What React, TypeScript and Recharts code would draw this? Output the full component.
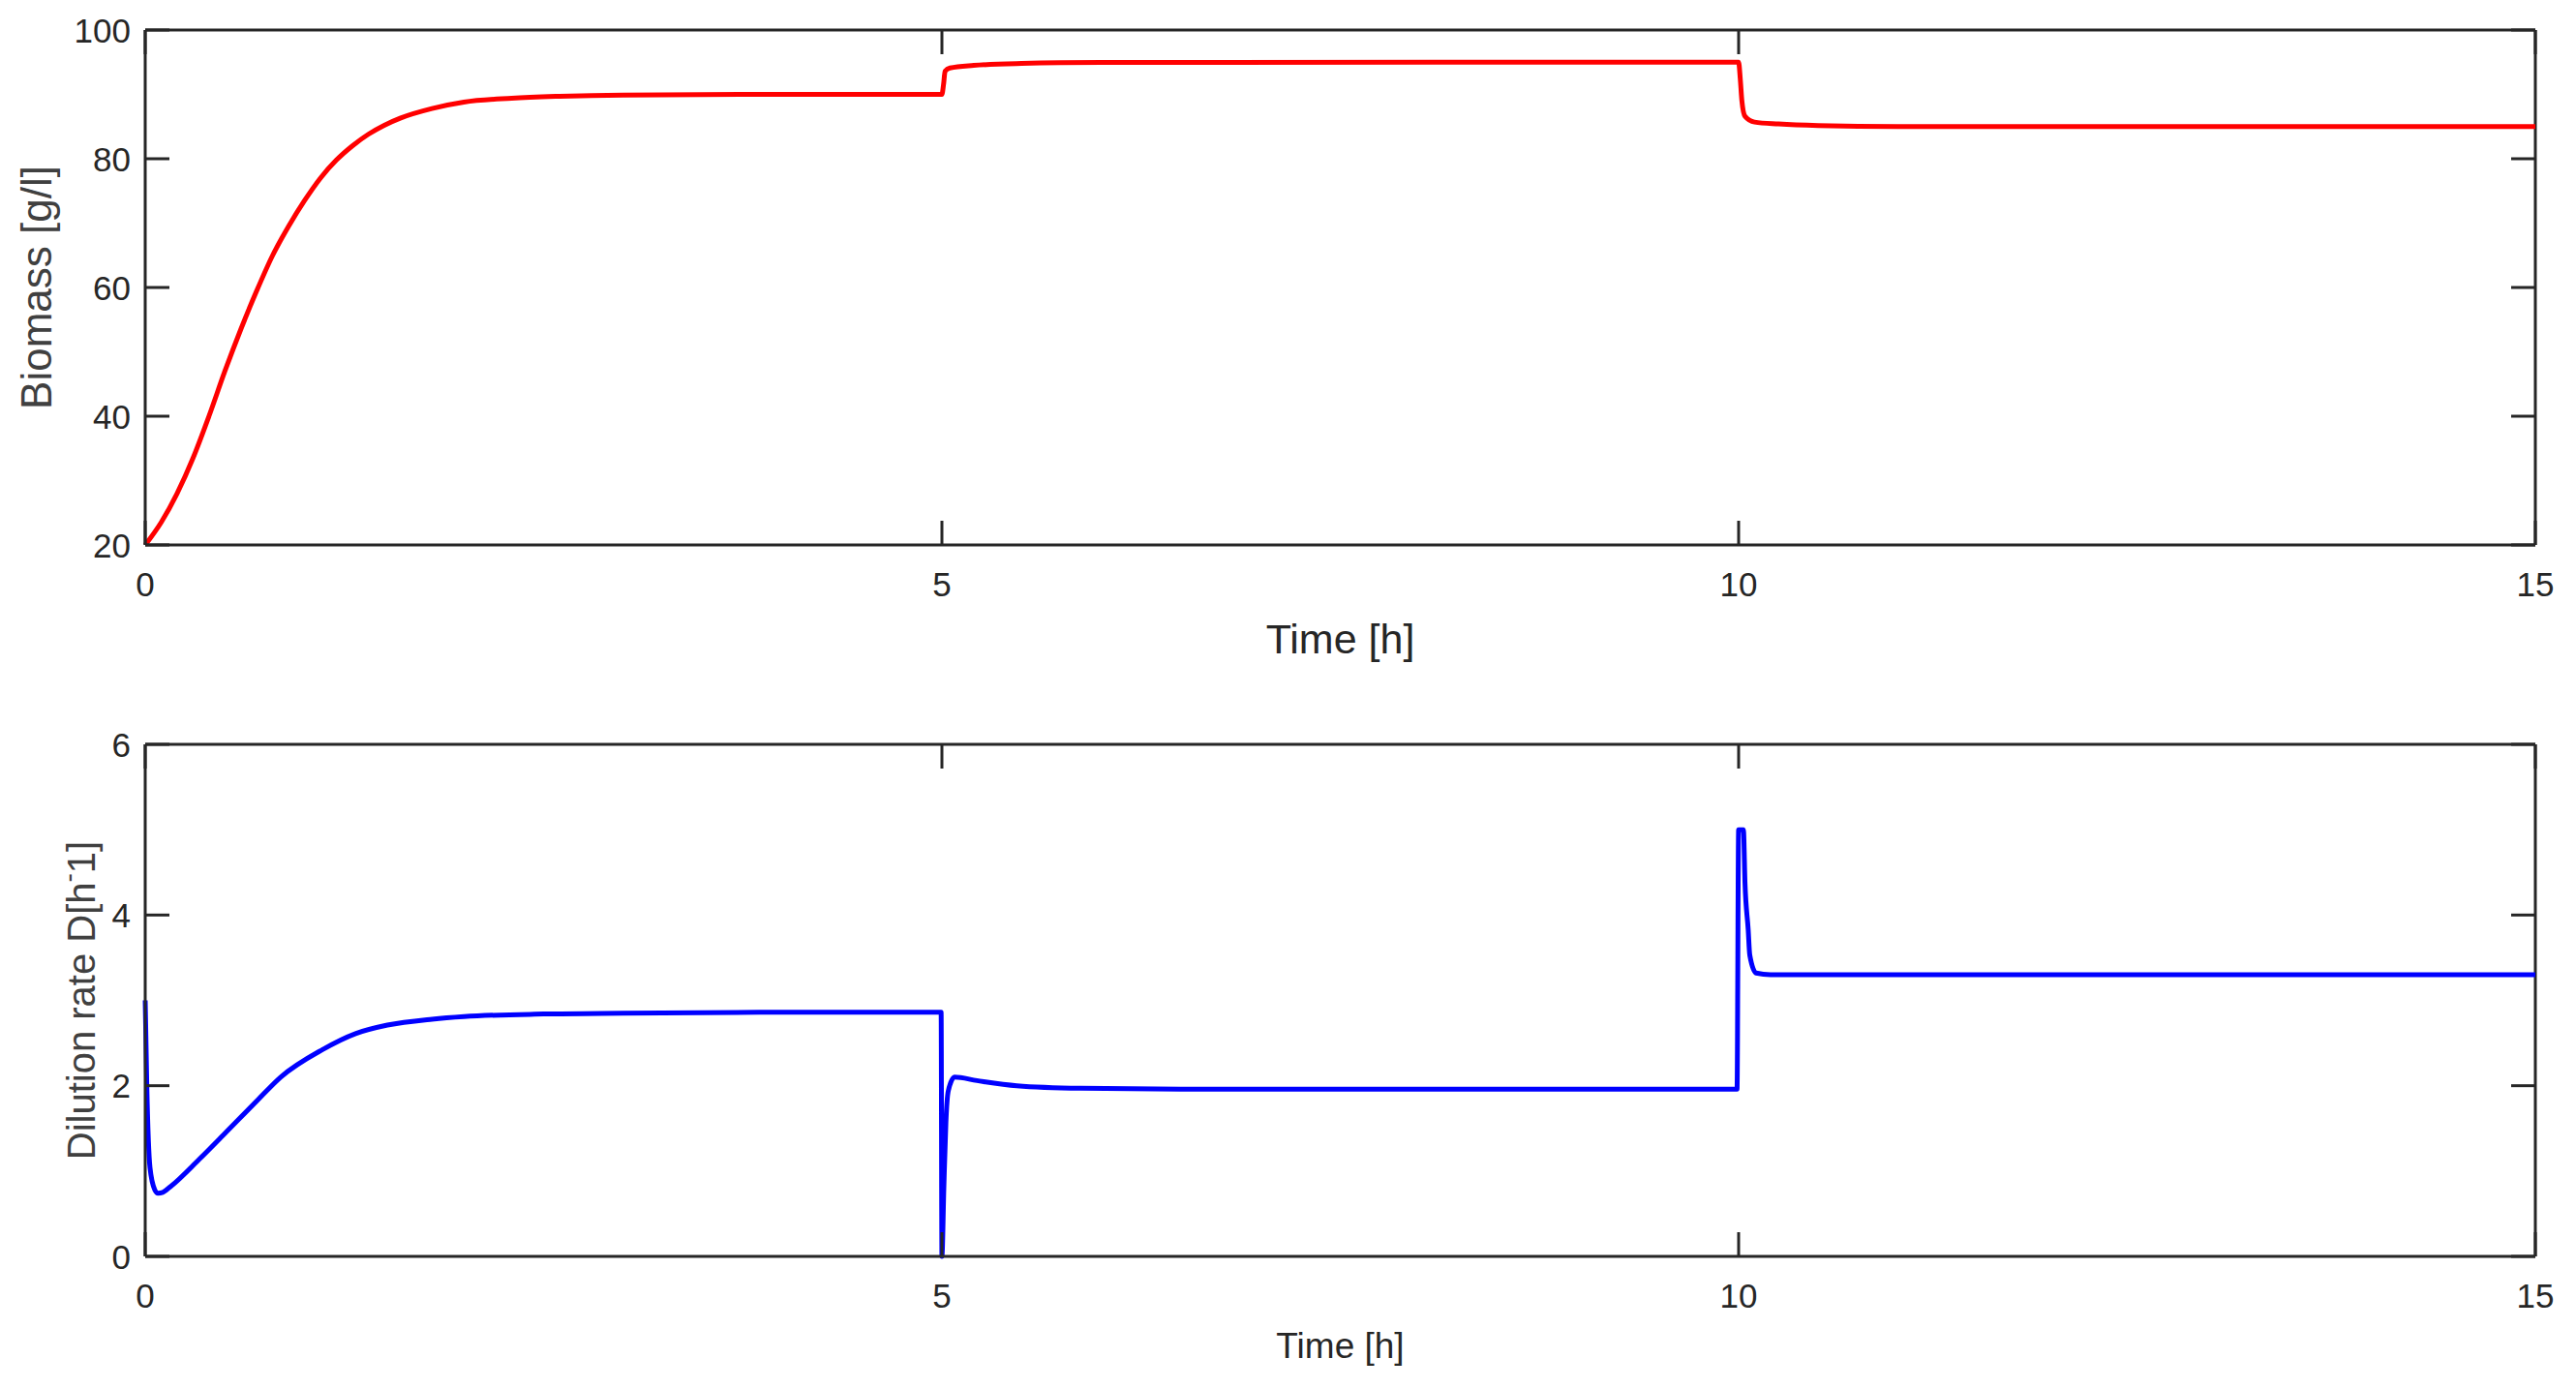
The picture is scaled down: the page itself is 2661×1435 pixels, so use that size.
import { Line, LineChart, ReferenceLine, XAxis, YAxis } from 'recharts'

// Biomass response (top panel)
const biomassTime = [
  0, 0.1, 0.2, 0.3, 0.4, 0.5, 0.6, 0.7, 0.8, 0.9, 1.0, 1.1, 1.2, 1.3, 1.4, 1.5, 1.6, 1.8, 2.0, 2.3, 2.6, 3.0, 4.0, 5.0,
  5.01, 5.02, 5.05, 5.2, 5.5, 6.0, 10.0,
  10.01, 10.02, 10.04, 10.1, 10.25, 10.5, 11.0, 15.0,
]
const biomassValue = [
  20, 23.5, 28, 33.5, 40, 47, 53.5, 59.5, 65, 69.5, 73.5, 77, 79.8, 82, 83.8, 85.2, 86.3, 87.8, 88.8, 89.4, 89.7, 89.9, 90, 90,
  91.5, 93.6, 94.1, 94.5, 94.8, 94.95, 95,
  92.5, 89.1, 86.6, 85.7, 85.4, 85.15, 85.0, 85.0,
]

// Dilution rate (bottom panel)
const dilutionTime = [
  0, 0.01, 0.03, 0.06, 0.08, 0.11, 0.16, 0.34, 0.51, 0.71, 0.85, 1.11, 1.32, 1.52, 1.8, 2.0, 2.5, 3.0, 4.0, 4.995,
  5.0, 5.012, 5.025, 5.04, 5.08, 5.22, 5.47, 5.87, 6.5, 9.99,
  10.0, 10.03, 10.04, 10.06, 10.07, 10.11, 10.2, 15.0,
]
const dilutionValue = [
  3.0, 2.0, 1.04, 0.78, 0.74, 0.75, 0.82, 1.14, 1.46, 1.84, 2.1, 2.42, 2.61, 2.71, 2.78, 2.81, 2.84, 2.85, 2.86, 2.86,
  0.0, 0.8, 1.57, 1.94, 2.1, 2.06, 2.0, 1.97, 1.96, 1.96,
  5.0, 5.0, 4.37, 3.83, 3.53, 3.32, 3.3, 3.3,
]

const timeTicks = [0, 5, 10, 15]
const biomassTicks = [20, 40, 60, 80, 100]
const dilutionTicks = [0, 2, 4, 6]

const biomassData = biomassTime.map((t, i) => ({ t, v: biomassValue[i] }))
const dilutionData = dilutionTime.map((t, i) => ({ t, v: dilutionValue[i] }))

const AXIS = '#262626'
const FONT = '"Liberation Sans", Arial, sans-serif'
const W = 2661
const PLOT_W = 2469
const TICK = 25
const AXIS_W = 3

// bottom tick: inward mark on bottom and top edge, label below
const makeXTick = (plotH: number) => (props: any) => {
  const { x, y } = props
  return (
    <g>
      <line x1={x} y1={y} x2={x} y2={y - TICK} stroke={AXIS} strokeWidth={AXIS_W} />
      <line x1={x} y1={y - plotH} x2={x} y2={y - plotH + TICK} stroke={AXIS} strokeWidth={AXIS_W} />
      <text x={x} y={y + 40} textAnchor="middle" dominantBaseline="central"
        fontSize={35} fill={AXIS} fontFamily={FONT}>
        {props.payload.value}
      </text>
    </g>
  )
}

// left tick: inward mark on left and right edge, label to the left
const YTick = (props: any) => {
  const { x, y } = props
  return (
    <g>
      <line x1={x} y1={y} x2={x + TICK} y2={y} stroke={AXIS} strokeWidth={AXIS_W} />
      <line x1={x + PLOT_W} y1={y} x2={x + PLOT_W - TICK} y2={y} stroke={AXIS} strokeWidth={AXIS_W} />
      <text x={x - 15} y={y} textAnchor="end" dominantBaseline="central"
        fontSize={35} fill={AXIS} fontFamily={FONT}>
        {props.payload.value}
      </text>
    </g>
  )
}

const timeLabel = (dy: number, size: number) => (props: any) => {
  const vb = props.viewBox
  return (
    <text x={vb.x + vb.width / 2} y={vb.y + dy} textAnchor="middle" dominantBaseline="central"
      fontSize={size} fill={AXIS} fontFamily={FONT}>
      Time [h]
    </text>
  )
}

const biomassLabel = (props: any) => {
  const vb = props.viewBox
  const cx = vb.x + 37
  const cy = vb.y + vb.height / 2
  return (
    <text x={cx} y={cy} transform={`rotate(-90, ${cx}, ${cy})`} textAnchor="middle"
      dominantBaseline="central" fontSize={44} fill="#404040" fontFamily={FONT}>
      Biomass [g/l]
    </text>
  )
}

const dilutionLabel = (props: any) => {
  const vb = props.viewBox
  const cx = vb.x + 84
  const cy = vb.y + vb.height / 2
  return (
    <text x={cx} y={cy} transform={`rotate(-90, ${cx}, ${cy})`} textAnchor="middle"
      dominantBaseline="central" fontSize={40} fill="#404040" fontFamily={FONT}>
      Dilution rate D[h<tspan dy={-14} fontSize={28}>-</tspan><tspan dy={14}>1]</tspan>
    </text>
  )
}

function Panel({ data, height, top, yDomain, yTicks, color, yLabel, xLabelDy, xLabelSize }: any) {
  const plotH = height - top - 137
  const XTick = makeXTick(plotH)
  return (
    <LineChart width={W} height={height} data={data}
      margin={{ top, right: 42, left: 0, bottom: 0 }}>
      <XAxis dataKey="t" type="number" domain={[0, 15]} ticks={timeTicks} height={137}
        tickSize={0} tickMargin={0} tickLine={false} tick={<XTick />}
        stroke={AXIS} strokeWidth={AXIS_W} label={timeLabel(xLabelDy, xLabelSize)} />
      <YAxis type="number" domain={yDomain} ticks={yTicks} width={150}
        tickSize={0} tickMargin={0} tickLine={false} tick={<YTick />}
        stroke={AXIS} strokeWidth={AXIS_W} label={yLabel} />
      <ReferenceLine y={yDomain[1]} stroke={AXIS} strokeWidth={AXIS_W} />
      <ReferenceLine x={15} stroke={AXIS} strokeWidth={AXIS_W} />
      <Line type="monotone" dataKey="v" stroke={color} strokeWidth={5} dot={false}
        isAnimationActive={false} />
    </LineChart>
  )
}

export default function App() {
  return (
    <div style={{ position: 'absolute', left: 0, top: 0, width: W, height: 1435, background: '#fff' }}>
      <Panel data={biomassData} height={700} top={31} yDomain={[20, 100]} yTicks={biomassTicks}
        color="#ff0000" yLabel={biomassLabel} xLabelDy={97} xLabelSize={43} />
      <Panel data={dilutionData} height={735} top={69} yDomain={[0, 6]} yTicks={dilutionTicks}
        color="#0000ff" yLabel={dilutionLabel} xLabelDy={92} xLabelSize={37} />
    </div>
  )
}
